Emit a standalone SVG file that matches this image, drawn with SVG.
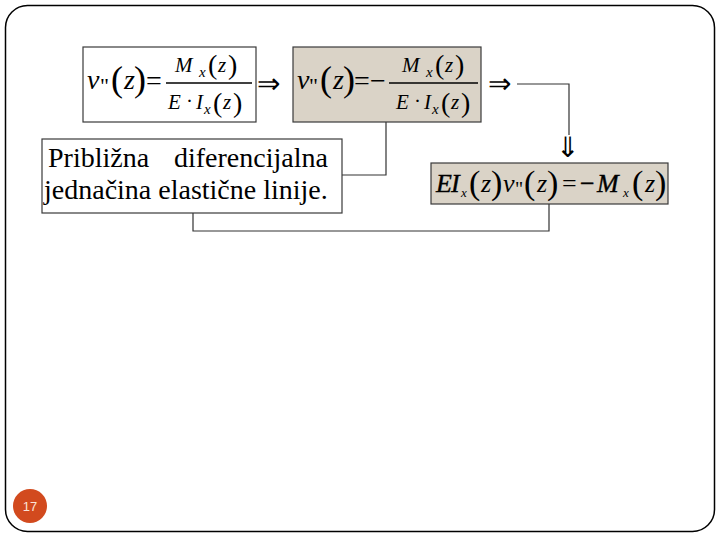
<svg xmlns="http://www.w3.org/2000/svg" width="720" height="540" viewBox="0 0 720 540">
<style>
.frame{fill:#fff;stroke:#000;stroke-width:1.5}
.box{stroke:#3a3a3a;stroke-width:1.2}
.plain{fill:#fff}
.tan{fill:#DAD3C7}
.conn{fill:none;stroke:#333;stroke-width:1.2}
.m{font-family:"Liberation Serif","Times New Roman",serif;fill:#000}
.i{font-style:italic}
.arr{font-family:"DejaVu Sans","Liberation Serif",sans-serif;fill:#000}
.lbl{font-family:"Liberation Serif","Times New Roman",serif;font-size:28px;fill:#000}
.bar{stroke:#000;stroke-width:1.4}
</style>
<rect class="frame" x="5.5" y="5.5" width="709" height="526" rx="22" ry="22"/>

<g id="connectors">
<polyline class="conn" points="517,84 569,84 569,135"/>
<polyline class="conn" points="386,122 386,175 342,175"/>
<polyline class="conn" points="193,213 193,231 549,231 549,204"/>
<text class="arr" x="257" y="93" font-size="28" font-weight="300">⇒</text>
<text class="arr" x="488" y="93" font-size="28" font-weight="300">⇒</text>
<text class="arr" x="568" y="157" font-size="28" text-anchor="middle">⇓</text>
</g>

<g id="eq1">
<rect class="box plain" x="83" y="47" width="173" height="75"/>
<text class="m i" x="87" y="89" font-size="28">v</text>
<text class="m" x="100" y="93" font-size="22">"</text>
<text class="m" x="111" y="91" font-size="36">(</text>
<text class="m i" x="124" y="89" font-size="28">z</text>
<text class="m" x="134" y="91" font-size="36">)</text>
<text class="m" x="146" y="90" font-size="28">=</text>
<line class="bar" x1="166" y1="83" x2="252" y2="83"/>
<text class="m i" x="175" y="72" font-size="21">M</text>
<text class="m i" x="199" y="77" font-size="15">x</text>
<text class="m" x="208" y="74" font-size="28">(</text>
<text class="m i" x="218" y="72" font-size="21">z</text>
<text class="m" x="228" y="74" font-size="28">)</text>
<text class="m i" x="168" y="109" font-size="21">E</text>
<text class="m" x="186" y="108" font-size="21">·</text>
<text class="m i" x="196" y="109" font-size="21">I</text>
<text class="m i" x="204" y="114" font-size="15">x</text>
<text class="m" x="213" y="112" font-size="28">(</text>
<text class="m i" x="223" y="109" font-size="21">z</text>
<text class="m" x="233" y="112" font-size="28">)</text>
</g>

<g id="eq2">
<rect class="box tan" x="293" y="47" width="188" height="75"/>
<text class="m i" x="297" y="89" font-size="28">v</text>
<text class="m" x="309" y="93" font-size="22">"</text>
<text class="m" x="320" y="91" font-size="36">(</text>
<text class="m i" x="333" y="89" font-size="28">z</text>
<text class="m" x="343" y="91" font-size="36">)</text>
<text class="m" x="354" y="90" font-size="28">=</text>
<text class="m" x="370" y="90" font-size="28">−</text>
<line class="bar" x1="389" y1="83" x2="478" y2="83"/>
<text class="m i" x="402" y="72" font-size="21">M</text>
<text class="m i" x="426" y="77" font-size="15">x</text>
<text class="m" x="435" y="74" font-size="28">(</text>
<text class="m i" x="445" y="72" font-size="21">z</text>
<text class="m" x="455" y="74" font-size="28">)</text>
<text class="m i" x="396" y="109" font-size="21">E</text>
<text class="m" x="414" y="108" font-size="21">·</text>
<text class="m i" x="424" y="109" font-size="21">I</text>
<text class="m i" x="432" y="114" font-size="15">x</text>
<text class="m" x="441" y="112" font-size="28">(</text>
<text class="m i" x="451" y="109" font-size="21">z</text>
<text class="m" x="461" y="112" font-size="28">)</text>
</g>

<g id="eq3">
<rect class="box tan" x="431" y="163" width="237" height="41"/>
<text class="m i" x="436" y="192" font-size="26" stroke="#000" stroke-width="0.4">E</text>
<text class="m i" x="451" y="192" font-size="26" stroke="#000" stroke-width="0.4">I</text>
<text class="m i" x="461" y="197" font-size="13">x</text>
<text class="m" x="469" y="194" font-size="34">(</text>
<text class="m i" x="481" y="192" font-size="26">z</text>
<text class="m" x="491" y="194" font-size="34">)</text>
<text class="m i" x="503" y="192" font-size="26">v</text>
<text class="m" x="515" y="196" font-size="20">"</text>
<text class="m" x="524" y="194" font-size="34">(</text>
<text class="m i" x="537" y="192" font-size="26">z</text>
<text class="m" x="547" y="194" font-size="34">)</text>
<text class="m" x="562" y="192" font-size="26" fill="#555">=</text>
<text class="m" x="580" y="192" font-size="26" stroke="#000" stroke-width="0.4">−</text>
<text class="m i" x="597" y="192" font-size="26" stroke="#000" stroke-width="0.4">M</text>
<text class="m i" x="623" y="197" font-size="13">x</text>
<text class="m" x="632" y="194" font-size="34">(</text>
<text class="m i" x="645" y="192" font-size="26">z</text>
<text class="m" x="655" y="194" font-size="34">)</text>
</g>

<g id="label">
<rect class="box plain" x="42" y="139" width="300" height="74"/>
<text class="lbl" y="167"><tspan x="48">Približna</tspan><tspan x="174">diferencijalna</tspan></text>
<text class="lbl" x="44" y="199">jednačina elastične linije.</text>
</g>

<g id="page">
<circle cx="30" cy="506" r="17" fill="#D24A1E"/>
<text x="30" y="511" font-family="Liberation Sans,Arial,sans-serif" font-size="13" fill="#FBE3D6" text-anchor="middle">17</text>
</g>
</svg>
